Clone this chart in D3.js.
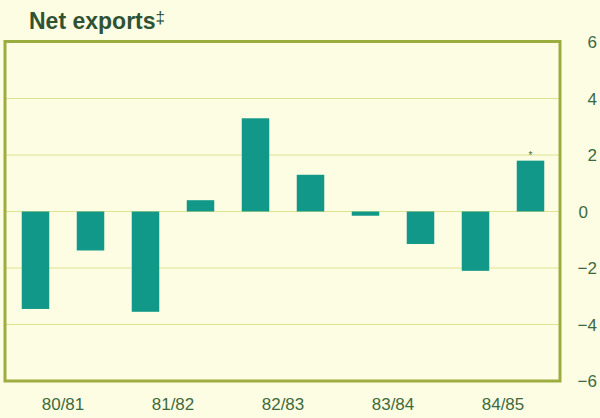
<!DOCTYPE html>
<html>
<meta charset="utf-8">
<head>
  <script src="https://d3js.org/d3.v7.min.js"></script>
  <style>
    body { margin: 0; background: #fdfde4; }
    .tick-label { font-family: "Liberation Sans", Arial, sans-serif; font-size: 17px; fill: #3d6a3d; }
  </style>
</head>
<body>
<div id="chart"></div>
<script type="text/javascript">
  "use strict"

  // half-yearly periods, two per financial year
  var periods = ["80/81a", "80/81b", "81/82a", "81/82b", "82/83a", "82/83b", "83/84a", "83/84b", "84/85a", "84/85b"];
  var values = [-3.45, -1.38, -3.55, 0.4, 3.3, 1.3, -0.15, -1.15, -2.1, 1.8];
  var years = ["80/81", "81/82", "82/83", "83/84", "84/85"];
  var yTicks = [6, 4, 2, 0, -2, -4, -6];

  var width = 600, height = 418;

  var svg = d3.select("#chart").append("svg")
      .attr("width", width)
      .attr("height", height);

  svg.append("rect").attr("width", width).attr("height", height).attr("fill", "#fdfde4");

  var x = d3.scaleBand().domain(periods).range([8, 558]).paddingInner(0.5).paddingOuter(0.25);
  var y = d3.scaleLinear().domain([-6, 6]).range([381, 42]);

  // title
  svg.append("text")
      .attr("x", 29).attr("y", 29)
      .attr("font-family", "Liberation Sans, Arial, sans-serif")
      .attr("font-weight", "bold")
      .attr("font-size", 23)
      .attr("fill", "#2f5232")
      .text("Net exports")
    .append("tspan")
      .attr("font-size", 17).attr("dy", -6).attr("font-weight", "normal")
      .text("‡");

  // grid lines
  svg.append("g").selectAll("line")
      .data(yTicks.filter(function(d) { return Math.abs(d) < 6; }))
    .enter().append("line")
      .attr("x1", 6).attr("x2", 559)
      .attr("y1", function(d) { return y(d); })
      .attr("y2", function(d) { return y(d); })
      .attr("stroke", "#dfe38f")
      .attr("stroke-width", 1.2);

  // bars
  svg.append("g").selectAll("rect")
      .data(values)
    .enter().append("rect")
      .attr("x", function(d, i) { return x(periods[i]); })
      .attr("width", x.bandwidth())
      .attr("y", function(d) { return y(Math.max(0, d)); })
      .attr("height", function(d) { return Math.abs(y(d) - y(0)); })
      .attr("fill", "#129889");

  // asterisk on last bar
  svg.append("text")
      .attr("x", x(periods[9]) + x.bandwidth() / 2)
      .attr("y", y(values[9]) - 2)
      .attr("text-anchor", "middle")
      .attr("font-family", "Liberation Sans, Arial, sans-serif")
      .attr("font-size", 10)
      .attr("fill", "#3d6a3d")
      .text("*");

  // frame
  svg.append("rect")
      .attr("x", 5).attr("y", 41.5)
      .attr("width", 555).attr("height", 339.5)
      .attr("fill", "none")
      .attr("stroke", "#9bad3e")
      .attr("stroke-width", 3);

  // right axis labels
  svg.append("g").selectAll("text")
      .data(yTicks)
    .enter().append("text")
      .attr("class", "tick-label")
      .attr("x", 597)
      .attr("dx", function(d) { return d === 0 ? -9 : 0; })
      .attr("y", function(d) { return y(d) + 6; })
      .attr("text-anchor", "end")
      .text(function(d) { return d < 0 ? "\u2212" + Math.abs(d) : d; });

  // year labels centred under each pair of bars
  svg.append("g").selectAll("text")
      .data(years)
    .enter().append("text")
      .attr("class", "tick-label")
      .attr("x", function(d, i) {
        return (x(periods[2 * i]) + x(periods[2 * i + 1]) + x.bandwidth()) / 2;
      })
      .attr("y", 410)
      .attr("text-anchor", "middle")
      .text(function(d) { return d; });
</script>
</body>
</html>
